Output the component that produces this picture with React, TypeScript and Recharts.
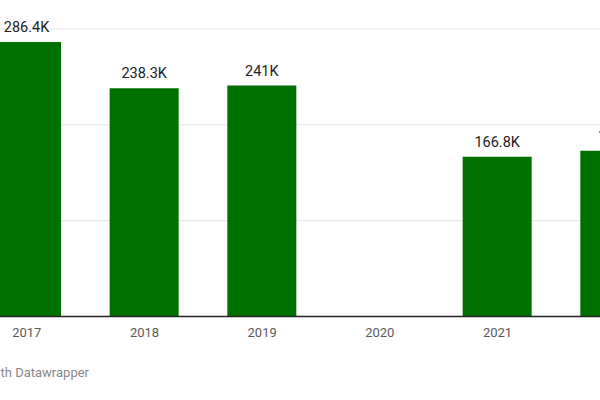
import React from "react";
import {
  BarChart,
  Bar,
  XAxis,
  YAxis,
  CartesianGrid,
  LabelList,
} from "recharts";

const years = ["2017", "2018", "2019", "2020", "2021", "2022"];
const values: (number | null)[] = [286400, 238300, 241000, null, 166800, 173000];
const yTicks = [0, 100000, 200000, 300000];

const data = years.map((year, i) => ({ year, value: values[i] }));

const BAR_COLOR = "#007000";
const FONT = "Roboto, sans-serif";

function formatK(v: unknown): string {
  if (typeof v !== "number") return "";
  return `${+(v / 1000).toFixed(1)}K`;
}

export default function App() {
  return (
    <div
      style={{
        position: "absolute",
        left: 0,
        top: 0,
        width: 600,
        height: 400,
        overflow: "hidden",
        background: "#fff",
        fontFamily: FONT,
      }}
    >
      <div style={{ position: "absolute", left: -32, top: 0 }}>
        <BarChart
          width={706}
          height={400}
          data={data}
          margin={{ top: 29, right: 0, bottom: 0, left: 0 }}
          barSize={69}
        >
          <CartesianGrid vertical={false} stroke="#e3e3e3" />
          <YAxis hide domain={[0, 300000]} ticks={yTicks} />
          <XAxis
            dataKey="year"
            height={83.5}
            axisLine={{ stroke: "#222", strokeWidth: 1.5 }}
            tickLine={false}
            tickMargin={5}
            tick={{ fontSize: 13, fill: "#595959", fontFamily: FONT }}
          />
          <Bar dataKey="value" fill={BAR_COLOR} isAnimationActive={false}>
            <LabelList
              dataKey="value"
              position="top"
              offset={10}
              formatter={formatK}
              style={{ fontSize: 14.5, fill: "#222", fontFamily: FONT }}
            />
          </Bar>
        </BarChart>
      </div>
      <div
        style={{
          position: "absolute",
          right: 511,
          top: 365,
          whiteSpace: "nowrap",
          fontSize: 13,
          color: "#888",
          fontFamily: FONT,
        }}
      >
        Created with Datawrapper
      </div>
    </div>
  );
}
